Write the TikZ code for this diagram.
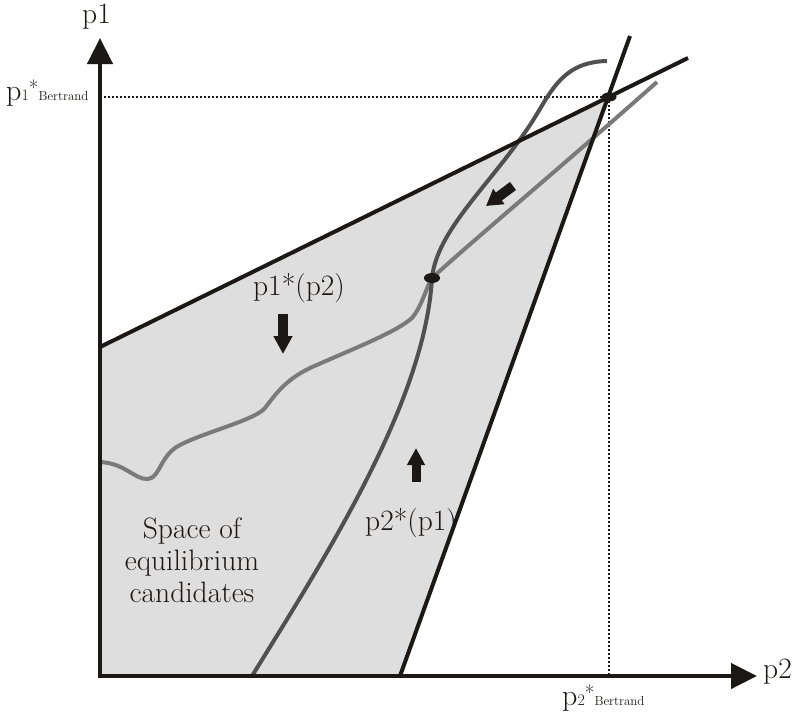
\documentclass[tikz,border=0pt]{standalone}
\usepackage{fontspec}
\usetikzlibrary{arrows.meta,shapes.geometric}
\definecolor{region}{HTML}{DEDEDE}
\definecolor{bestone}{HTML}{7A7A7A}
\definecolor{besttwo}{HTML}{505050}
\definecolor{ink}{HTML}{1C1816}
\newcommand{\bertrand}[1]{{\fontsize{30}{32}\selectfont p}{\fontsize{16}{18}\selectfont #1}\raisebox{5pt}{\fontsize{21}{21}\selectfont *}{\fontsize{13}{15}\selectfont Bertrand}}
\begin{document}
\begin{tikzpicture}[x=1pt, y=-1pt,
    axis/.style={line width=4.5pt, ink, -{Triangle[length=26pt,width=25pt]}},
    bound/.style={line width=4pt, ink},
    guide/.style={line width=2pt, ink, dash pattern=on 2pt off 2pt},
    resp/.style={line width=4pt},
    push/.style={ink, -{Triangle[length=18pt,width=18pt]}},
    eqdot/.style={ellipse, fill=ink, inner sep=0pt, minimum width=16pt, minimum height=10pt},
    lbl/.style={font=\fontsize{29.5}{32}\selectfont, inner sep=0pt, text=ink}]
    \useasboundingbox (0,0) rectangle (806,718);

    % axes and bounds
    \coordinate (O) at (100,676);
    \coordinate (Ytop) at (100,38);
    \coordinate (Xend) at (757,676);
    \coordinate (A) at (100,347);
    \coordinate (Aend) at (688,58);
    \coordinate (B) at (400,676);
    \coordinate (Bend) at (630,36);
    \coordinate (E) at (609,97);
    \coordinate (M) at (432,278);

    % space of candidates
    \fill[region] (O) -- (A) -- (E) -- (B) -- cycle;
    \draw[guide] (E -| O) -- (E);
    \draw[guide] (E) -- (E |- O);

    % best responses
    \draw[resp, bestone] (100,462) .. controls (125,463) and (135,480) .. (148,479)
        .. controls (160,478) and (160,455) .. (180,445)
        .. controls (205,432) and (255,420) .. (265,408)
        .. controls (275,395) and (285,380) .. (310,368)
        .. controls (350,350) and (395,333) .. (412,318)
        .. controls (422,306) and (426,288) .. (M)
        .. controls (470,243) and (560,168) .. (657,82);
    \draw[resp, besttwo] (252,676) .. controls (330,550) and (425,400) .. (M)
        .. controls (437,230) and (490,185) .. (530,125)
        .. controls (550,95) and (560,62) .. (607,61);

    \draw[bound] (A) -- (Aend);
    \draw[bound] (B) -- (Bend);
    \draw[axis] (O) -- (Ytop);
    \draw[axis] ([xshift=-2.25pt]O) -- (Xend);

    \node[eqdot, minimum width=15pt, minimum height=9pt] (Edot) at (E) {};
    \node[eqdot] (Mdot) at (M) {};

    % adjustment arrows
    \coordinate (d1) at (283,314); \coordinate (d2) at (283,354);
    \coordinate (u1) at (416,482); \coordinate (u2) at (416,448);
    \coordinate (s1) at (513,186); \coordinate (s2) at (486,206);
    \draw[push, line width=10pt] (d1) -- (d2);
    \draw[push, line width=9pt, -{Triangle[length=17pt,width=17pt]}] (u1) -- (u2);
    \draw[push, line width=10pt, -{Triangle[length=16pt,width=18pt]}] (s1) -- (s2);

    % labels
    \node[lbl, anchor=base west] (ylab) at (82,23) {p1};
    \node[lbl, anchor=base west] (xlab) at (763,678) {p2};
    \node[inner sep=0pt, anchor=base west, text=ink] (p1b) at (6,100) {\bertrand{1}};
    \node[inner sep=0pt, anchor=base west, text=ink] (p2b) at (562,705) {\bertrand{2}};
    \node[lbl, anchor=base] (r1) at (299,295) {p1*(p2)};
    \node[lbl, anchor=base] (r2) at (411,530) {p2*(p1)};
    \node[lbl, align=center] (space) at (192,560) {Space of\\equilibrium\\candidates};
\end{tikzpicture}
\end{document}
